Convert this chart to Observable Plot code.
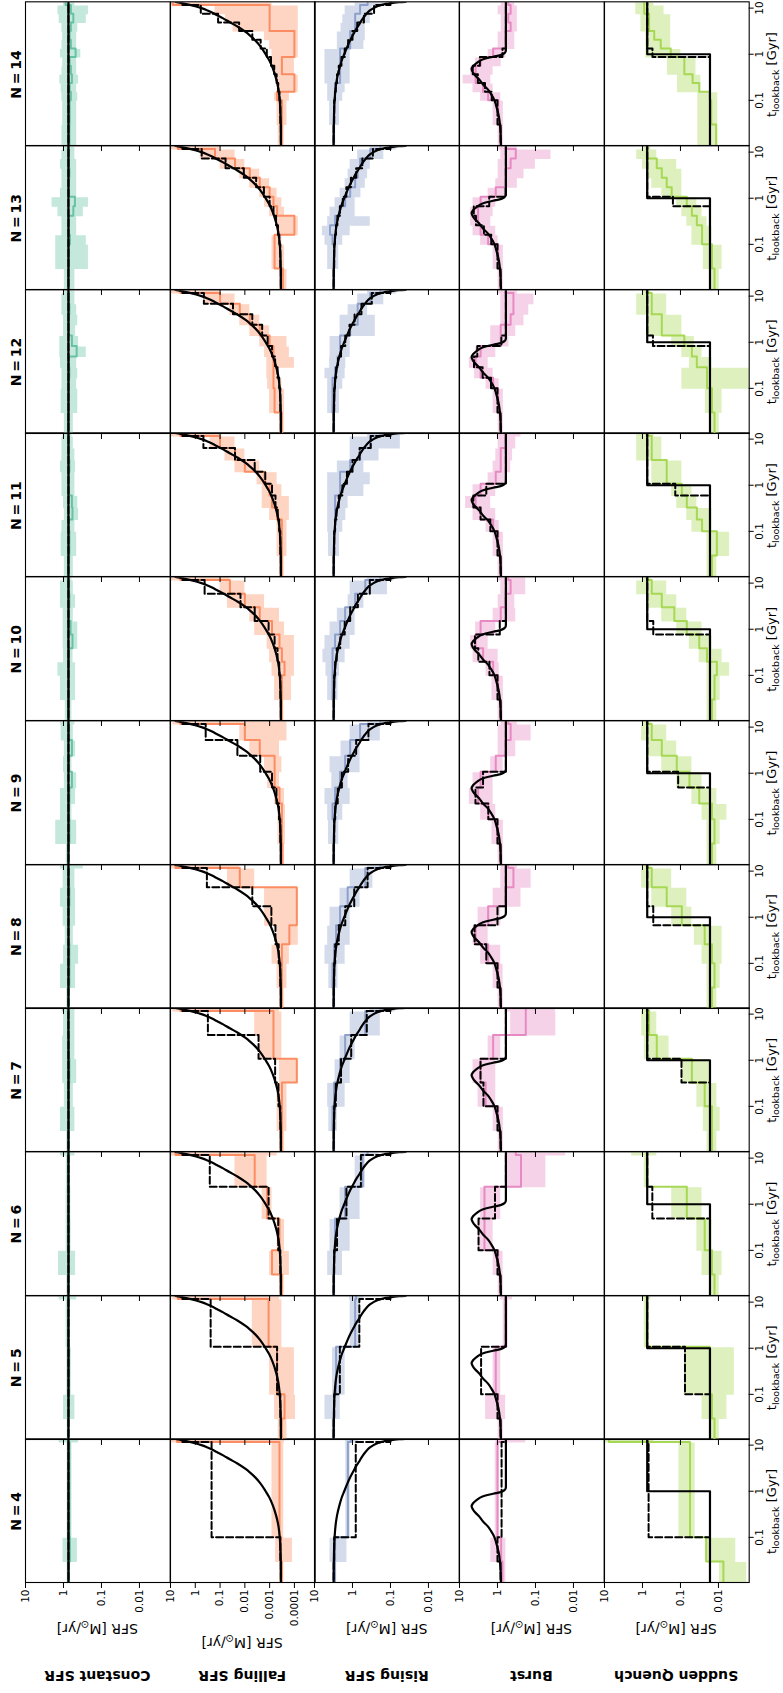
<!DOCTYPE html>
<html><head><meta charset="utf-8">
<script src="https://cdn.jsdelivr.net/npm/d3@7"></script>
<script src="https://cdn.jsdelivr.net/npm/@observablehq/plot@0.6"></script>
<style>
html,body{margin:0;padding:0;background:#fff;overflow:hidden;width:783px;height:1693px;}
#fig{position:absolute;left:0;top:0;width:1693px;height:783px;transform-origin:0 0;transform:translateY(1693px) rotate(-90deg);font-family:"DejaVu Sans",sans-serif;background:#fff;}
#fig svg{position:absolute;}
</style></head><body><div id="fig"></div>
<script>
// ---------- categories / ticks ----------
const binCounts = [4,5,6,7,8,9,10,11,12,13,14];
const rowNames = ["Constant SFR","Falling SFR","Rising SFR","Burst","Sudden Quench"];
const rowColors = ["#66c2a5","#fc8d62","#8da0cb","#e78ac3","#a6d854"];
const xTicks = [0.1, 1, 10];
const yTicksStd = [10, 1, 0.1, 0.01];
const yTicksFalling = [10, 1, 0.1, 0.01, 0.001, 0.0001];
const tDomain = [0.0105, 13.7];
const yDomainStd = [0.00155, 10];
const yDomainFalling = [1.45e-5, 10];

// bin edges in lookback time [Gyr], one list per N
const binEdges = [
 [0,0.03,0.1,11.65,13.7],
 [0,0.03,0.1,1.079,11.65,13.7],
 [0,0.03,0.1,0.4885,2.386,11.65,13.7],
 [0,0.03,0.1,0.3285,1.079,3.545,11.65,13.7],
 [0,0.03,0.1,0.259,0.6707,1.737,4.498,11.65,13.7],
 [0,0.03,0.1,0.221,0.4885,1.079,2.386,5.272,11.65,13.7],
 [0,0.03,0.1,0.1973,0.3895,0.7684,1.516,2.992,5.904,11.65,13.7],
 [0,0.03,0.1,0.1813,0.3285,0.5955,1.079,1.956,3.545,6.428,11.65,13.7],
 [0,0.03,0.1,0.1697,0.2878,0.4885,0.8286,1.406,2.386,4.047,6.866,11.65,13.7],
 [0,0.03,0.1,0.1609,0.259,0.4168,0.6707,1.079,1.737,2.795,4.498,7.238,11.65,13.7],
 [0,0.03,0.1,0.1541,0.2375,0.3661,0.5642,0.8694,1.34,2.065,3.183,4.906,7.558,11.65,13.7]
];

// ---------- true (input) star formation histories ----------
const constantTrueT = [0.0105, 13.7];
const constantTrueSFR = [0.74, 0.74];
const fallingTrueT = [0.0105,0.03,0.05,0.1,0.2,0.3,0.5,0.75,1.0,1.5,2.0,2.5,3.0,4.0,5.0,6.0,7.0,8.0,9.0,10.0,11.0,11.65,12.0,13.0,13.7];
const fallingTrueSFR = [3.5e-4,3.55e-4,3.65e-4,3.9e-4,4.6e-4,5.5e-4,7.5e-4,1.05e-3,1.45e-3,2.4e-3,3.8e-3,6e-3,9e-3,0.02,0.042,0.075,0.13,0.21,0.34,0.56,1.0,1.5,1.9,3.8,6.3];
const risingTrueT = [0.0105,0.03,0.1,0.2,0.3,0.5,0.75,1.0,1.5,2.0,2.7,3.5,4.3,5.0,6.0,7.0,8.0,9.0,10.0,11.0,11.65,12.0,12.5,13.0,13.4,13.7];
const risingTrueSFR = [3.15,3.1,2.96,2.75,2.55,2.2,1.9,1.65,1.35,1.15,0.95,0.8,0.68,0.61,0.53,0.46,0.4,0.34,0.28,0.22,0.18,0.155,0.12,0.085,0.06,0.04];
const burstTrueT = [0.0105,0.02,0.03,0.045,0.06,0.08,0.1,0.14,0.175,0.22,0.286,0.35,0.4,0.47,0.55,0.65,0.77,0.85,0.91,0.97,1.05,1.15,1.27,13.7];
const burstTrueSFR = [0.81,0.83,0.86,0.92,1.0,1.1,1.2,1.5,1.82,2.4,3.06,3.9,4.4,4.8,4.4,3.5,2.48,1.6,1.1,0.8,0.66,0.61,0.6,0.6];
const quenchTrueT = [0.0105, 1.0, 13.7];
const quenchTrueSFR = [0.0167, 0.75, 0.75];

// ---------- Constant SFR ----------
const constantMedian = [
 [0.72,0.68,0.7,0.75],
 [0.74,0.72,0.72,0.74,0.75],
 [0.74,0.72,0.73,0.73,0.74,0.74],
 [0.74,0.72,0.72,0.7,0.72,0.74,0.74],
 [0.74,0.7,0.7,0.72,0.72,0.7,0.72,0.74],
 [0.74,0.7,0.72,0.7,0.6,0.72,0.6,0.72,0.74],
 [0.74,0.72,0.72,0.72,0.58,0.65,0.72,0.7,0.72,0.74],
 [0.74,0.7,0.72,0.58,0.6,0.72,0.72,0.7,0.72,0.72,0.74],
 [0.74,0.72,0.72,0.7,0.72,0.45,0.6,0.72,0.72,0.7,0.72,0.74],
 [0.74,0.72,0.68,0.72,0.72,0.55,0.5,0.72,0.72,0.7,0.72,0.72,0.74],
 [0.7,0.69,0.64,0.69,0.6,0.64,0.69,0.48,0.64,0.69,0.64,0.55,0.64,0.88]
];
const constantLow = [
 [0.65,0.43,0.6,0.4],
 [0.68,0.5,0.62,0.66,0.45],
 [0.66,0.48,0.63,0.64,0.65,0.5],
 [0.66,0.5,0.55,0.45,0.5,0.5,0.5],
 [0.66,0.48,0.4,0.55,0.48,0.48,0.5,0.3],
 [0.65,0.45,0.6,0.48,0.45,0.6,0.48,0.55,0.5],
 [0.6,0.48,0.48,0.56,0.42,0.42,0.55,0.48,0.55,0.6],
 [0.55,0.45,0.5,0.4,0.42,0.5,0.5,0.48,0.5,0.55,0.6],
 [0.55,0.42,0.45,0.42,0.45,0.25,0.4,0.48,0.42,0.45,0.5,0.5],
 [0.5,0.22,0.25,0.45,0.45,0.3,0.22,0.45,0.45,0.45,0.45,0.5,0.5],
 [0.45,0.45,0.42,0.45,0.4,0.45,0.45,0.35,0.45,0.45,0.42,0.25,0.22,0.5]
];
const constantHigh = [
 [0.8,1.03,0.8,1.3],
 [0.8,1.0,0.82,0.85,1.3],
 [0.82,1.35,0.85,0.85,0.84,1.2],
 [0.82,1.2,0.95,1.05,1.05,1.0,1.1],
 [0.82,1.2,1.0,0.9,1.02,1.2,1.02,1.2],
 [0.84,1.6,1.2,1.2,0.95,1.0,0.95,1.15,1.2],
 [0.9,1.2,1.4,1.0,1.02,1.02,1.02,1.2,1.2,1.0],
 [0.95,1.15,1.1,0.95,1.0,1.1,1.1,1.2,1.1,1.1,1.0],
 [0.95,1.15,1.1,1.1,1.2,1.25,1.25,1.0,1.0,1.1,1.1,1.0],
 [0.95,1.6,1.6,1.1,1.1,1.4,2.0,1.2,1.1,1.1,1.2,1.1,1.0],
 [1.1,1.05,1.1,1.15,1.25,1.1,1.05,1.2,1.1,1.05,1.1,1.3,1.4,1.0]
];
const constantBinned = [
 [0.74,0.74,0.74,0.74],
 [0.74,0.74,0.74,0.74,0.74],
 [0.74,0.74,0.74,0.74,0.74,0.74],
 [0.74,0.74,0.74,0.74,0.74,0.74,0.74],
 [0.74,0.74,0.74,0.74,0.74,0.74,0.74,0.74],
 [0.74,0.74,0.74,0.74,0.74,0.74,0.74,0.74,0.74],
 [0.74,0.74,0.74,0.74,0.74,0.74,0.74,0.74,0.74,0.74],
 [0.74,0.74,0.74,0.74,0.74,0.74,0.74,0.74,0.74,0.74,0.74],
 [0.74,0.74,0.74,0.74,0.74,0.74,0.74,0.74,0.74,0.74,0.74,0.74],
 [0.74,0.74,0.74,0.74,0.74,0.74,0.74,0.74,0.74,0.74,0.74,0.74,0.74],
 [0.74,0.74,0.74,0.74,0.74,0.74,0.74,0.74,0.74,0.74,0.74,0.74,0.74,0.74]
];

// ---------- Falling SFR ----------
const fallingMedian = [
 [3.2e-4,3.5e-4,4e-4,5.4],
 [3.2e-4,2.5e-4,5e-4,1.1e-3,5],
 [3.2e-4,8e-4,4e-4,1.26e-3,4e-3,6.3],
 [3.2e-4,3.2e-4,3.2e-4,8e-5,7e-4,7e-4,4],
 [3.2e-4,3.2e-4,3.2e-4,1.6e-4,8e-5,8e-5,0.016,6.3],
 [3e-4,3.2e-4,3.2e-4,4e-4,6.3e-4,6.3e-4,2.5e-3,0.01,4],
 [3.2e-4,3.2e-4,2.5e-4,3.2e-4,4e-4,8e-4,2.5e-3,0.01,0.04,4],
 [3.2e-4,3.2e-4,3.2e-4,5e-4,8e-4,1e-3,1.6e-3,0.01,0.025,0.1,4],
 [3.2e-4,6.3e-4,7e-4,7e-4,7e-4,7e-4,1e-3,2.5e-3,6.3e-3,0.016,0.1,4],
 [2.9e-4,6.3e-4,6.3e-4,1e-4,1e-4,5e-4,7e-4,1e-3,2.5e-3,6.3e-3,0.025,0.16,5],
 [3.2e-4,3.2e-4,5e-4,1e-4,1e-4,3.2e-4,3.2e-4,1e-4,1e-4,1e-4,1e-3,1e-3,1e-3,8]
];
const fallingLow = [
 [2.7e-4,1.2e-4,2.7e-4,2.5e-4],
 [2e-4,9e-5,1e-4,3.2e-4,4e-4],
 [2.6e-4,1.6e-4,2.5e-4,8e-4,1.26e-3,5e-4],
 [2.5e-4,2e-4,2e-4,7e-5,3.2e-4,3.2e-4,4e-4],
 [2.6e-4,2e-4,1.6e-4,7e-5,7e-5,7e-5,4e-3,0.016],
 [2.6e-4,2.3e-4,2.3e-4,2.5e-4,4e-4,3.2e-4,4e-4,2e-4,2e-4],
 [2.7e-4,1.3e-4,1e-4,1e-4,1e-4,2.5e-4,4e-4,1.6e-3,0.01,0.04],
 [2.6e-4,2e-4,2e-4,1.6e-4,1.6e-4,3.2e-4,5e-4,2.5e-3,0.01,0.025,0.1],
 [2.6e-4,2.5e-4,3.2e-4,4e-4,1e-4,1.6e-4,2e-4,1e-3,2.5e-3,6.3e-3,0.025,0.1],
 [2e-4,2.5e-4,3.2e-4,7e-5,7e-5,2.5e-4,3.2e-4,5e-4,1e-3,2.5e-3,0.01,0.025,0.1],
 [2.6e-4,2e-4,1.6e-4,7e-5,7e-5,1e-4,1e-4,7e-5,7e-5,7e-5,7e-5,7e-5,7e-5,8e-4]
];
const fallingHigh = [
 [4e-4,5.7e-4,8e-4,9],
 [4.5e-4,6.3e-4,1e-3,5e-3,8],
 [4e-4,1e-3,5e-4,2e-3,0.025,9],
 [4e-4,5e-4,5e-4,4e-4,2.5e-3,4e-3,8],
 [4e-4,5e-4,8e-4,5e-4,1.6e-3,1.6e-3,0.05,9],
 [3.8e-4,4.6e-4,4.6e-4,6.3e-4,1.2e-3,1.6e-3,6.3e-3,0.016,8],
 [4e-4,6.3e-4,8e-4,1e-3,1.26e-3,4e-3,6.3e-3,0.05,0.1,9],
 [4e-4,5e-4,5e-4,1e-3,2e-3,2e-3,3.2e-3,0.025,0.063,0.25,9],
 [4e-4,1e-3,1.2e-3,1.3e-3,1.3e-3,1.6e-3,2.5e-3,6.3e-3,0.016,0.04,0.4,9],
 [4e-4,8e-4,8e-4,5e-4,5e-4,1e-3,1.6e-3,2.5e-3,6.3e-3,0.016,0.1,0.63,9],
 [4.5e-4,5e-4,6.3e-4,5e-4,5e-4,6.3e-4,8e-4,8e-4,1e-3,1.6e-3,0.03,0.06,0.16,12]
];
const fallingBinned = [
 [3.52e-4,3.7e-4,0.22,3.3],
 [3.52e-4,3.7e-4,5e-4,0.24,3.3],
 [3.52e-4,3.7e-4,4.5e-4,1.1e-3,0.26,3.3],
 [3.52e-4,3.7e-4,4.4e-4,6e-4,2.8e-3,0.31,3.3],
 [3.52e-4,3.7e-4,4.3e-4,5.8e-4,8.5e-4,5e-3,0.34,3.3],
 [3.52e-4,3.7e-4,4.2e-4,5.3e-4,8e-4,2.4e-3,0.02,0.38,3.3],
 [3.52e-4,3.7e-4,4.1e-4,4.8e-4,6.3e-4,1.1e-3,4e-3,0.015,0.42,3.3],
 [3.52e-4,3.7e-4,4.1e-4,4.7e-4,5.8e-4,8e-4,1.5e-3,4e-3,0.025,0.47,3.3],
 [3.52e-4,3.7e-4,4.1e-4,4.8e-4,6e-4,8e-4,1.2e-3,2e-3,5e-3,0.03,0.45,3.3],
 [3.52e-4,3.7e-4,4.05e-4,4.6e-4,5.5e-4,7e-4,1e-3,1.7e-3,3.5e-3,0.011,0.06,0.55,3.3],
 [3.52e-4,3.7e-4,4e-4,4.5e-4,5.2e-4,6.5e-4,8.8e-4,1.3e-3,2.3e-3,5e-3,0.017,0.12,0.6,3.3]
];

// ---------- Rising SFR ----------
const risingMedian = [
 [2.87,2.87,1.32,1.1],
 [3.05,3.05,2.7,0.85,0.8],
 [3.05,3.05,2.87,1.56,0.54,0.4],
 [3.05,3.35,3.05,2.12,1.56,0.46,0.185],
 [3.05,3.35,3.05,2.7,2.12,1.34,0.46,0.185],
 [3.05,3.05,3.35,2.87,2.12,1.56,1.15,0.63,0.185],
 [3.05,3.35,3.35,3.35,2.87,2.12,1.56,0.85,0.46,0.185],
 [3.05,3.05,2.87,2.87,2.87,2.12,2.12,1.15,0.63,0.34,0.185],
 [3.05,3.35,3.35,2.87,2.47,2.12,2.12,1.15,0.73,0.73,0.34,0.185],
 [3.05,3.05,3.35,3.9,2.87,2.12,1.56,1.15,0.85,0.73,0.63,0.34,0.185],
 [3.05,3.05,2.87,2.87,2.12,2.12,2.12,2.12,1.15,1.15,0.85,0.85,0.63,0.4]
];
const risingLow = [
 [2.7,1.4,1.15,0.7],
 [2.8,2.1,1.56,0.63,0.5],
 [2.8,1.83,1.15,0.63,0.46,0.2],
 [2.8,2.5,1.56,1.15,0.85,0.185,0.074],
 [2.8,2.4,1.56,1.15,1.15,0.63,0.29,0.1],
 [2.8,2.3,1.8,1.15,1.3,0.63,0.63,0.185,0.1],
 [2.8,2.4,2.2,1.56,1.15,0.85,0.85,0.5,0.12,0.08],
 [2.8,2.2,1.8,1.5,1.3,0.5,0.34,0.5,0.2,0.055,0.055],
 [2.8,2.2,1.8,1.56,1.5,1.15,1.15,0.25,0.25,0.4,0.15,0.07],
 [2.8,2.3,1.8,1.15,0.34,0.85,0.85,0.6,0.46,0.4,0.34,0.15,0.07],
 [2.8,2.2,1.8,1.56,1.15,1.15,1.15,1.15,0.5,0.46,0.46,0.34,0.3,0.12]
];
const risingHigh = [
 [3.1,3.9,1.5,1.5],
 [3.4,5.3,3.35,1.15,1.2],
 [3.3,4.5,3.9,2.12,0.85,0.6],
 [3.3,4.2,4.5,2.87,2.12,1.15,0.34],
 [3.3,4.2,5.3,4.5,3.9,2.12,1.15,0.4],
 [3.3,4.3,4.5,5.3,3.5,3.9,2.0,1.15,0.4],
 [3.3,4.5,5.0,6.0,5.3,3.9,2.5,1.3,1.15,0.4],
 [3.3,4.3,4.5,4.5,4.5,4.5,4.5,2.5,1.15,1.15,0.4],
 [3.3,4.5,4.5,5.3,4.0,3.9,3.9,2.12,2.12,1.3,0.73,0.4],
 [3.3,4.5,5.3,6.2,4.5,3.9,2.87,2.12,1.56,1.3,1.15,0.73,0.34],
 [3.3,4.0,4.5,4.5,5.3,5.3,5.3,5.3,2.5,2.5,2.0,1.8,1.56,0.85]
];
const risingBinned = [
 [3.13,3.03,0.82,0.1],
 [3.13,3.03,2.15,0.66,0.1],
 [3.13,3.03,2.55,1.44,0.6,0.1],
 [3.13,3.03,2.75,2.0,1.08,0.42,0.1],
 [3.13,3.03,2.85,2.3,1.55,0.9,0.4,0.1],
 [3.13,3.03,2.85,2.45,1.9,1.3,0.8,0.38,0.1],
 [3.13,3.03,2.86,2.6,2.1,1.6,1.15,0.72,0.35,0.1],
 [3.13,3.03,2.87,2.65,2.3,1.85,1.4,1.0,0.65,0.33,0.1],
 [3.13,3.03,2.88,2.68,2.4,2.0,1.55,1.2,0.88,0.58,0.31,0.1],
 [3.13,3.03,2.89,2.72,2.5,2.15,1.8,1.45,1.1,0.8,0.55,0.29,0.1],
 [3.13,3.03,2.9,2.75,2.55,2.3,1.95,1.6,1.3,1.0,0.75,0.5,0.27,0.1]
];

// ---------- Burst ----------
const burstMedian = [
 [0.74,0.8,1.0,0.6],
 [0.82,0.96,1.11,0.61,0.61],
 [0.82,0.96,2.2,2.2,0.24,0.33],
 [0.82,0.96,2.05,2.78,1.3,0.18,0.18],
 [0.82,0.96,1.76,3.77,1.76,0.61,0.38,0.52],
 [0.82,1.0,1.76,3.24,2.78,1.11,0.61,0.45,0.52],
 [0.82,0.96,1.3,2.39,3.77,2.78,0.82,0.61,0.45,0.52],
 [0.82,0.96,1.3,2.78,3.77,2.78,1.11,0.82,0.82,0.61,0.61],
 [0.82,0.96,1.3,2.78,3.77,2.78,0.82,0.82,0.45,0.38,0.38,0.61],
 [0.82,0.96,1.76,2.78,3.24,3.24,2.78,1.11,0.61,0.61,0.45,0.33,0.61],
 [0.82,0.96,1.76,2.4,3.77,3.77,2.78,1.3,0.61,0.61,0.45,0.52,0.45,0.52]
];
const burstLow = [
 [0.6,0.6,0.88,0.18],
 [0.7,0.61,0.82,0.52,0.4],
 [0.7,0.71,1.3,0.82,0.053,0.016],
 [0.7,0.7,1.11,1.11,0.82,0.029,0.03],
 [0.7,0.71,0.82,1.76,0.82,0.24,0.13,0.3],
 [0.7,0.7,1.11,1.3,1.3,0.71,0.33,0.13,0.3],
 [0.7,0.7,0.9,0.96,1.76,1.11,0.33,0.35,0.18,0.18],
 [0.7,0.7,0.9,1.11,1.51,1.11,0.61,0.45,0.4,0.33,0.24],
 [0.7,0.7,0.9,1.3,1.76,1.11,0.5,0.33,0.2,0.15,0.11,0.3],
 [0.7,0.7,0.96,1.11,1.5,1.3,1.11,0.61,0.3,0.2,0.1,0.039,0.3],
 [0.7,0.7,0.82,1.3,1.5,1.3,0.8,0.6,0.35,0.35,0.3,0.3,0.3,0.35]
];
const burstHigh = [
 [0.8,1.5,1.15,1.1],
 [0.96,2.05,1.3,0.71,0.82],
 [0.96,1.3,3.24,2.78,0.61,0.61],
 [0.96,1.3,3.24,4.4,1.76,0.45,0.6],
 [0.96,1.3,2.78,4.4,3.24,1.3,0.82,0.8],
 [0.96,1.4,2.78,5.5,4.4,1.51,0.96,0.96,0.8],
 [0.96,1.4,2.0,4.4,5.1,3.77,1.3,0.96,0.82,0.96],
 [0.96,1.3,2.0,4.4,6.9,4.4,1.76,1.3,1.11,0.96,0.96],
 [0.96,1.3,2.0,4.0,5.5,3.77,1.51,1.51,0.82,0.82,0.82,0.96],
 [0.96,1.3,2.78,4.4,5.1,5.1,4.4,1.76,1.11,0.96,0.96,0.82,0.96],
 [0.96,1.3,2.78,4.4,8.0,5.1,3.77,1.76,0.96,0.96,0.8,0.8,0.96,0.8]
];
const burstBinned = [
 [0.83,1.0,0.78,0.6],
 [0.83,1.0,2.7,0.6,0.6],
 [0.83,1.0,3.15,1.16,0.6,0.6],
 [0.83,1.0,2.34,2.8,0.6,0.6,0.6],
 [0.83,1.0,1.97,4.01,1.0,0.6,0.6,0.6],
 [0.83,1.0,1.74,3.8,2.4,0.6,0.6,0.6,0.6],
 [0.83,1.0,1.63,3.2,3.92,0.87,0.6,0.6,0.6,0.6],
 [0.83,1.0,1.54,2.79,4.32,1.97,0.6,0.6,0.6,0.6,0.6],
 [0.83,1.0,1.48,2.46,4.15,3.4,0.79,0.6,0.6,0.6,0.6,0.6],
 [0.83,1.0,1.46,2.28,3.69,4.21,1.65,0.61,0.6,0.6,0.6,0.6,0.6],
 [0.83,1.0,1.42,2.13,3.28,4.48,2.91,0.74,0.6,0.6,0.6,0.6,0.6,0.6]
];

// ---------- Sudden Quench ----------
const quenchMedian = [
 [0.0074,0.021,0.056,7.6],
 [0.0127,0.0148,0.017,0.77,0.77],
 [0.0127,0.0148,0.023,0.068,0.77,0.77],
 [0.0148,0.0148,0.023,0.05,0.42,0.67,0.77],
 [0.0148,0.0127,0.0148,0.023,0.092,0.23,0.57,0.77],
 [0.0148,0.0127,0.0148,0.032,0.058,0.125,0.31,0.57,0.77],
 [0.0148,0.0127,0.011,0.02,0.032,0.068,0.145,0.31,0.57,0.77],
 [0.0148,0.011,0.027,0.037,0.068,0.092,0.23,0.23,0.57,0.57,0.77],
 [0.0127,0.0148,0.02,0.02,0.037,0.05,0.079,0.31,0.31,0.57,0.57,0.77],
 [0.0127,0.0148,0.027,0.027,0.037,0.05,0.068,0.17,0.23,0.31,0.42,0.77,0.77],
 [0.0115,0.0155,0.017,0.032,0.048,0.079,0.079,0.18,0.33,0.49,0.67,0.67,0.9,0.9]
];
const quenchLow = [
 [0.0018,0.0035,0.041,0.5],
 [0.0095,0.006,0.0038,0.67,0.6],
 [0.0095,0.008,0.0148,0.027,0.67,0.42],
 [0.011,0.009,0.011,0.017,0.2,0.42,0.6],
 [0.011,0.009,0.008,0.008,0.05,0.068,0.17,0.6],
 [0.011,0.009,0.006,0.011,0.027,0.05,0.125,0.23,0.6],
 [0.011,0.009,0.0051,0.008,0.0148,0.027,0.068,0.125,0.23,0.6],
 [0.011,0.0051,0.0148,0.0148,0.037,0.05,0.092,0.092,0.31,0.31,0.5],
 [0.0095,0.008,0.0015,0.0015,0.0148,0.027,0.043,0.092,0.092,0.23,0.23,0.6],
 [0.0095,0.008,0.0148,0.0148,0.02,0.027,0.037,0.092,0.092,0.092,0.125,0.42,0.6],
 [0.0104,0.0104,0.0104,0.029,0.029,0.039,0.039,0.097,0.18,0.18,0.18,0.18,0.27,0.5]
];
const quenchHigh = [
 [0.0094,0.022,0.11,10],
 [0.017,0.027,0.079,0.9,0.95],
 [0.017,0.027,0.037,0.17,0.9,1.93],
 [0.02,0.025,0.037,0.092,0.9,1.05,0.95],
 [0.02,0.02,0.027,0.043,0.17,0.57,1.05,0.95],
 [0.02,0.02,0.027,0.05,0.125,0.31,0.77,1.05,0.95],
 [0.02,0.02,0.02,0.032,0.058,0.125,0.31,0.77,1.42,0.95],
 [0.02,0.02,0.05,0.068,0.125,0.17,0.57,0.57,1.42,1.42,1.42],
 [0.017,0.022,0.092,0.092,0.058,0.092,0.17,0.77,0.77,1.42,1.42,0.95],
 [0.017,0.025,0.05,0.05,0.068,0.092,0.125,0.31,0.57,0.77,1.0,1.42,0.95],
 [0.035,0.035,0.035,0.12,0.12,0.22,0.22,0.82,0.82,0.82,1.1,1.1,1.5,1.5]
];
const quenchBinned = [
 [0.0167,0.0167,0.69,0.75],
 [0.0167,0.0167,0.076,0.75,0.75],
 [0.0167,0.0167,0.0167,0.55,0.75,0.75],
 [0.0167,0.0167,0.0167,0.094,0.75,0.75,0.75],
 [0.0167,0.0167,0.0167,0.0167,0.52,0.75,0.75,0.75],
 [0.0167,0.0167,0.0167,0.0167,0.115,0.75,0.75,0.75,0.75],
 [0.0167,0.0167,0.0167,0.0167,0.0167,0.52,0.75,0.75,0.75,0.75],
 [0.0167,0.0167,0.0167,0.0167,0.0167,0.137,0.75,0.75,0.75,0.75,0.75],
 [0.0167,0.0167,0.0167,0.0167,0.0167,0.0167,0.53,0.75,0.75,0.75,0.75,0.75],
 [0.0167,0.0167,0.0167,0.0167,0.0167,0.0167,0.158,0.75,0.75,0.75,0.75,0.75,0.75],
 [0.0167,0.0167,0.0167,0.0167,0.0167,0.0167,0.0167,0.546,0.75,0.75,0.75,0.75,0.75,0.75]
];

// ---------- assemble ----------
const rows = [
 {med:constantMedian, lo:constantLow, hi:constantHigh, bin:constantBinned, tT:constantTrueT, tS:constantTrueSFR, curve:"linear", yDom:yDomainStd, yT:yTicksStd},
 {med:fallingMedian, lo:fallingLow, hi:fallingHigh, bin:fallingBinned, tT:fallingTrueT, tS:fallingTrueSFR, curve:"monotone-x", yDom:yDomainFalling, yT:yTicksFalling},
 {med:risingMedian, lo:risingLow, hi:risingHigh, bin:risingBinned, tT:risingTrueT, tS:risingTrueSFR, curve:"monotone-x", yDom:yDomainStd, yT:yTicksStd},
 {med:burstMedian, lo:burstLow, hi:burstHigh, bin:burstBinned, tT:burstTrueT, tS:burstTrueSFR, curve:"monotone-x", yDom:yDomainStd, yT:yTicksStd},
 {med:quenchMedian, lo:quenchLow, hi:quenchHigh, bin:quenchBinned, tT:quenchTrueT, tS:quenchTrueSFR, curve:"step-after", yDom:yDomainStd, yT:yTicksStd}
];

// layout (in the un-rotated figure frame, 1693 x 783)
const FW = 1693, FH = 783;
const colX0 = 109.7, colW = 143.69, rowY0 = 25, rowH = 144.7;
const ML = 60, MR = 4, MT = 4, MB = 26;
const fig = document.getElementById("fig");
const fmt = d => String(d);

function steps(edges, vals, keyFn) {
  const pts = vals.map((v, i) => Object.assign({t: Math.max(edges[i], 1e-3)}, keyFn(i)));
  pts.push(Object.assign({t: edges[edges.length - 1]}, keyFn(vals.length - 1)));
  return pts;
}

rows.forEach((row, r) => {
  const color = rowColors[r];
  const truePts = row.tT.map((t, i) => ({t, v: row.tS[i]}));
  binCounts.forEach((N, c) => {
    const edges = binEdges[c];
    const band = steps(edges, row.med[c], i => ({lo: row.lo[c][i], hi: row.hi[c][i]}));
    const med = steps(edges, row.med[c], i => ({v: row.med[c][i]}));
    const bin = steps(edges, row.bin[c], i => ({v: row.bin[c][i]}));
    const svg = Plot.plot({
      width: colW + ML + MR, height: rowH + MT + MB,
      marginLeft: ML, marginRight: MR, marginTop: MT, marginBottom: MB,
      style: {background: "transparent", overflow: "visible", fontFamily: "DejaVu Sans, sans-serif", fontSize: "10.5px", color: "black"},
      x: {type: "log", domain: tDomain, ticks: xTicks, tickFormat: fmt, tickSize: 5, tickPadding: 1, label: null, axis: r === 4 ? "bottom" : null},
      y: {type: "log", domain: row.yDom, ticks: row.yT, tickFormat: c === 0 ? fmt : () => "", tickSize: 5, tickPadding: 2, label: null, axis: "left"},
      marks: [
        Plot.areaY(band, {x: "t", y1: "lo", y2: "hi", curve: "step-after", fill: color, fillOpacity: 0.38, clip: true}),
        Plot.line(med, {x: "t", y: "v", curve: "step-after", stroke: color, strokeWidth: 2, clip: true}),
        Plot.line(bin, {x: "t", y: "v", curve: "step-after", stroke: "black", strokeWidth: 2, strokeDasharray: "7,3", clip: true}),
        Plot.line(truePts, {x: "t", y: "v", curve: row.curve, stroke: "black", strokeWidth: 2.2, clip: true}),
        Plot.frame({stroke: "black", strokeWidth: 1.1})
      ]
    });
    svg.style.left = (colX0 + c * colW - ML) + "px";
    svg.style.top = (rowY0 + r * rowH - MT) + "px";
    fig.appendChild(svg);
  });
});

// text overlay: column titles, x labels, y labels, row labels
const ov = d3.select(fig).append("svg")
  .attr("width", FW).attr("height", FH)
  .style("left", "0px").style("top", "0px").style("overflow", "visible")
  .style("font-family", "DejaVu Sans, sans-serif");
binCounts.forEach((N, c) => {
  const cx = colX0 + (c + 0.5) * colW;
  ov.append("text").attr("x", cx).attr("y", 20.7).attr("text-anchor", "middle")
    .attr("font-weight", "bold").attr("font-size", 14).text(`N\u2009=\u2009${N}`);
  const xl = ov.append("text").attr("x", cx).attr("y", 776).attr("text-anchor", "middle").attr("font-size", 13);
  xl.append("tspan").text("t");
  xl.append("tspan").attr("font-size", 9.5).attr("dy", 2.5).text("lookback");
  xl.append("tspan").attr("dy", -2.5).text(" [Gyr]");
});
rowNames.forEach((name, r) => {
  const cy = rowY0 + (r + 0.5) * rowH;
  ov.append("text").attr("transform", `translate(22,${cy}) rotate(-90)`).attr("text-anchor", "middle")
    .attr("font-weight", "bold").attr("font-size", 14).text(name);
  const yl = ov.append("text").attr("transform", `translate(${r === 1 ? 55 : 69},${cy}) rotate(-90)`)
    .attr("text-anchor", "middle").attr("font-size", 14);
  yl.append("tspan").text("SFR [M");
  yl.append("tspan").attr("font-size", 10).attr("dy", 3).text("\u2299");
  yl.append("tspan").attr("dy", -3).text("/yr]");
});
</script></body></html>
